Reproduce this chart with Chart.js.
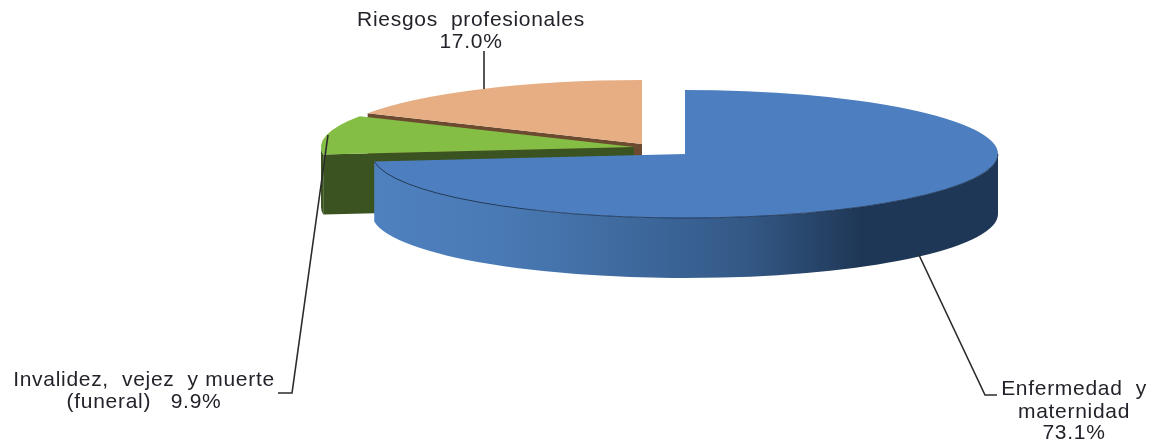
<!DOCTYPE html>
<html lang="en">
<head>
    <meta charset="UTF-8">
    <title>Pie 3D</title>
    <style>
        html, body { margin: 0; padding: 0; background: #fff; overflow: hidden; }
        canvas { display: block; }
    </style>
    <script src="https://cdn.jsdelivr.net/npm/chart.js@4"></script>
</head>
<body>
    <canvas id="chart" width="1158" height="445"></canvas>
    <script>
        // data
        const categories = ['Enfermedad y maternidad', 'Invalidez, vejez y muerte (funeral)', 'Riesgos profesionales'];
        const values = [73.1, 9.9, 17.0];
        const topColors = ['#4d7fc0', '#85be45', '#e6ae82'];

        // look of the tilted pie
        const RX = 313, RY = 64, DEPTH = 60;
        const centers = [{x: 685, y: 154}, {x: 634, y: 147}, {x: 642, y: 144}];
        const faceColors = ['#4d7fc0', '#3a5320', '#6b4a30'];
        const drawOrder = [2, 1, 0];

        function wallFill(ctx, i) {
            if (i === 0) {
                const g = ctx.createLinearGradient(374, 0, 998, 0);
                g.addColorStop(0, '#4f81c0');
                g.addColorStop(0.2, '#4a7ab5');
                g.addColorStop(0.45, '#3c6699');
                g.addColorStop(0.6, '#335885');
                g.addColorStop(0.78, '#1f3756');
                g.addColorStop(1, '#1f3756');
                return g;
            }
            return faceColors[i];
        }

        const tiltPlugin = {
            id: 'tilt',
            beforeDatasetsDraw(chart) {
                const ctx = chart.ctx;
                const arcs = chart.getDatasetMeta(0).data;
                drawOrder.forEach(function (i) {
                    const arc = arcs[i];
                    const c = centers[i];
                    const a0 = arc.startAngle, a1 = arc.endAngle;

                    // flat cut face where the slice starts
                    if (i !== 0) {
                        const sx = c.x + RX * Math.cos(a0), sy = c.y + RY * Math.sin(a0);
                        ctx.fillStyle = faceColors[i];
                        ctx.beginPath();
                        ctx.moveTo(c.x, c.y);
                        ctx.lineTo(sx, sy);
                        ctx.lineTo(sx, sy + DEPTH);
                        ctx.lineTo(c.x, c.y + DEPTH);
                        ctx.closePath();
                        ctx.fill();
                    }

                    // outer wall, front half of the rim only
                    const w0 = Math.max(a0, 0), w1 = Math.min(a1, Math.PI);
                    if (w1 > w0) {
                        ctx.fillStyle = wallFill(ctx, i);
                        ctx.beginPath();
                        ctx.ellipse(c.x, c.y, RX, RY, 0, w0, w1);
                        ctx.ellipse(c.x, c.y + DEPTH, RX, RY, 0, w1, w0, true);
                        ctx.closePath();
                        ctx.fill();
                    }

                    // top of the slice, squashed from the library's own arc
                    ctx.save();
                    ctx.translate(c.x, c.y);
                    ctx.scale(RX / arc.outerRadius, RY / arc.outerRadius);
                    ctx.translate(-arc.x, -arc.y);
                    arc.draw(ctx);
                    ctx.restore();

                    // thin rim line
                    if (i === 0) {
                        ctx.strokeStyle = 'rgba(20,35,60,0.7)';
                        ctx.lineWidth = 1;
                        ctx.beginPath();
                        ctx.ellipse(c.x, c.y, RX, RY, 0, w0, w1);
                        ctx.stroke();
                    }
                });
                return false;
            },
            afterDraw(chart) {
                const ctx = chart.ctx;

                // leader lines
                const leaders = [
                    [[919, 255], [985, 395], [997, 395]],
                    [[328, 135], [292, 393], [278, 393]],
                    [[484, 89], [484, 51]]
                ];
                ctx.strokeStyle = '#2b2b2b';
                ctx.lineWidth = 1.6;
                leaders.forEach(function (pts) {
                    ctx.beginPath();
                    pts.forEach(function (p, k) {
                        if (k === 0) ctx.moveTo(p[0], p[1]);
                        else ctx.lineTo(p[0], p[1]);
                    });
                    ctx.stroke();
                });

                // labels
                const pct = values.map(function (v) { return v.toFixed(1) + '%'; });
                const labels = [
                    {x: 1074, y: [389, 412, 433], lines: ['Enfermedad  y', 'maternidad', pct[0]]},
                    {x: 144, y: [380, 402], lines: ['Invalidez,  vejez  y muerte', '(funeral)   ' + pct[1]]},
                    {x: 471, y: [20, 42], lines: ['Riesgos  profesionales', pct[2]]}
                ];
                ctx.font = '21px "Liberation Sans", Arial, sans-serif';
                ctx.letterSpacing = '0.7px';
                ctx.fillStyle = '#23232b';
                ctx.textAlign = 'center';
                ctx.textBaseline = 'middle';
                labels.forEach(function (l) {
                    l.lines.forEach(function (t, k) {
                        ctx.fillText(t, l.x, l.y[k]);
                    });
                });
            }
        };

        new Chart(document.getElementById('chart'), {
            type: 'pie',
            data: {
                labels: categories,
                datasets: [{
                    data: values,
                    backgroundColor: topColors,
                    borderWidth: 0,
                    radius: 200
                }]
            },
            options: {
                responsive: false,
                animation: false,
                plugins: {
                    legend: { display: false },
                    tooltip: { enabled: false }
                }
            },
            plugins: [tiltPlugin]
        });
    </script>
</body>
</html>
